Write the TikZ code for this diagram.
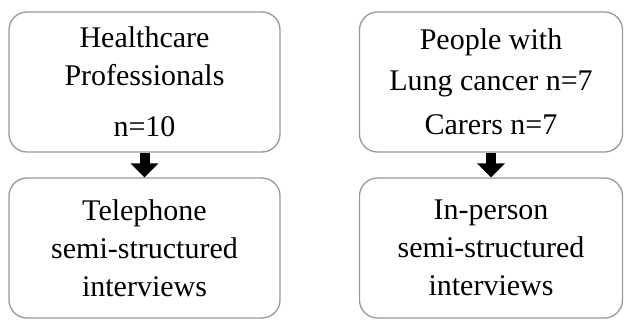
\documentclass[tikz,border=0pt]{standalone}
\usepackage{fontspec}
\setmainfont{Liberation Serif}
\usetikzlibrary{arrows.meta}
\begin{document}
\begin{tikzpicture}[x=1pt,y=1pt,
  box/.style={draw=black!40, line width=1.3pt, rounded corners=18pt, fill=white,
    minimum height=140pt, align=center, inner sep=0pt},
  txt/.style={font=\fontsize{30}{38}\selectfont},
  flow/.style={line width=10pt, -{Triangle[width=27pt,length=14pt]}}]
\useasboundingbox (0,0) rectangle (624,322);
\node[box, txt, minimum width=271pt] (lt) at (144.5,240) {Healthcare\\Professionals\\[13pt]n=10};
\node[box, txt, minimum width=271pt] (lb) at (144.5,74) {Telephone\\semi-structured\\interviews};
\node[box, font=\fontsize{30}{41}\selectfont, minimum width=263pt] (rt) at (491,240) {People with\\Lung cancer n=7\\[3pt]Carers n=7};
\node[box, txt, minimum width=263pt] (rb) at (491,74) {In-person\\semi-structured\\interviews};
\draw[flow] (lt.south) -- (lb.north);
\draw[flow] (rt.south) -- (rb.north);
\end{tikzpicture}
\end{document}
